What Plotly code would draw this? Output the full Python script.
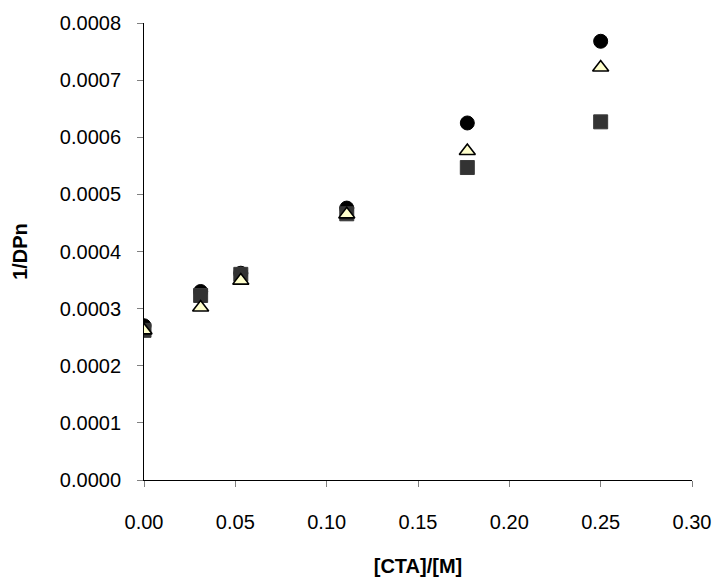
import plotly.graph_objects as go

# [CTA]/[M] ratios used for the three series
cta_ratio = [0.0, 0.031, 0.053, 0.111, 0.177, 0.25]

# 1/DPn values for each series
inv_dpn_circle = [0.000270, 0.000330, 0.000362, 0.000476, 0.000625, 0.000768]
inv_dpn_square = [0.000262, 0.000323, 0.000360, 0.000466, 0.000547, 0.000627]
inv_dpn_triangle = [0.000262, 0.000302, 0.000349, 0.000465, 0.000576, 0.000722]

FONT = "Liberation Sans, Arial, sans-serif"
FONT_SIZE = 20

fig = go.Figure()

fig.add_trace(go.Scatter(
    x=cta_ratio, y=inv_dpn_circle, mode="markers", name="circle",
    marker=dict(symbol="circle", size=14, color="#000000",
                line=dict(color="#000000", width=1)),
))
fig.add_trace(go.Scatter(
    x=cta_ratio, y=inv_dpn_square, mode="markers", name="square",
    marker=dict(symbol="square", size=14, color="#333333",
                line=dict(color="#3a3a3a", width=1)),
))
fig.add_trace(go.Scatter(
    x=cta_ratio, y=inv_dpn_triangle, mode="markers", name="triangle",
    marker=dict(symbol="triangle-up", size=14, color="#FFFFCC",
                line=dict(color="#000000", width=1.6)),
))

fig.update_layout(
    width=717, height=577,
    margin=dict(l=144, r=25, t=23, b=97),
    paper_bgcolor="white", plot_bgcolor="white",
    showlegend=False,
    font=dict(family=FONT, size=FONT_SIZE, color="#000000"),
)

fig.update_xaxes(
    range=[0, 0.30], dtick=0.05, tick0=0, tickformat=".2f",
    showgrid=False, zeroline=False, automargin=False,
    showline=True, linecolor="#000000", linewidth=1,
    ticks="outside", ticklen=6, tickcolor="#808080", tickwidth=1,
    ticklabelstandoff=18,
    tickfont=dict(family=FONT, size=FONT_SIZE, color="#000000"),
    title=dict(text="<b>[CTA]/[M]</b>", font=dict(family=FONT, size=FONT_SIZE), standoff=26),
)
fig.update_yaxes(
    range=[0, 0.0008], dtick=0.0001, tick0=0, tickformat=".4f",
    showgrid=False, zeroline=False, automargin=False,
    showline=True, linecolor="#000000", linewidth=1,
    ticks="outside", ticklen=6, tickcolor="#808080", tickwidth=1,
    ticklabelstandoff=12,
    tickfont=dict(family=FONT, size=FONT_SIZE, color="#000000"),
    title=dict(text="<b>1/DPn</b>", font=dict(family=FONT, size=FONT_SIZE), standoff=26),
)

fig.write_html("out.html")
